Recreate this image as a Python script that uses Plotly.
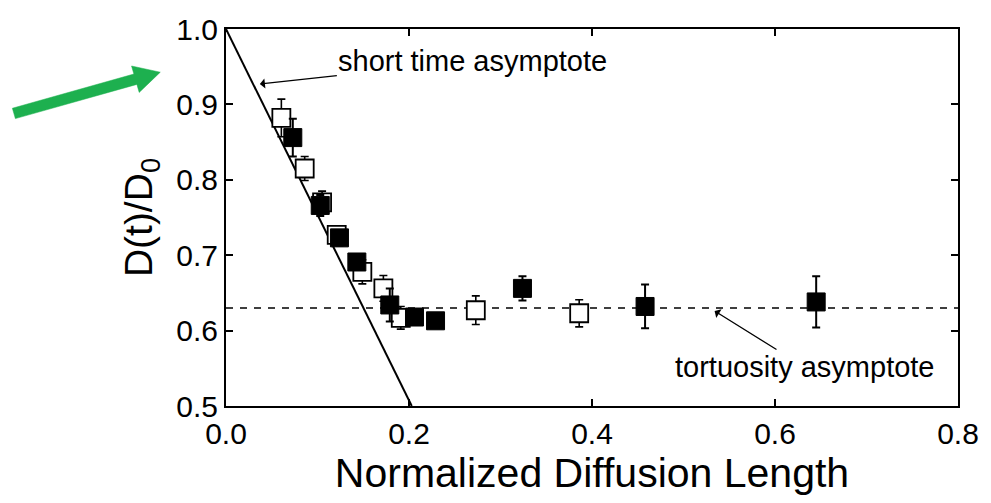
import plotly.graph_objects as go

# Open squares
open_x = [0.0605, 0.086, 0.105, 0.121, 0.149, 0.172, 0.191, 0.273, 0.386]
open_y = [0.882, 0.815, 0.770, 0.727, 0.678, 0.656, 0.617, 0.627, 0.623]
open_err = [0.025, 0.016, 0.015, 0.012, 0.016, 0.017, 0.015, 0.019, 0.018]

# Filled squares
fill_x = [0.073, 0.103, 0.124, 0.143, 0.179, 0.206, 0.229, 0.324, 0.458, 0.645]
fill_y = [0.856, 0.766, 0.723, 0.691, 0.634, 0.618, 0.613, 0.656, 0.632, 0.638]
fill_err = [0.025, 0.014, 0.010, 0.008, 0.022, 0.008, 0.005, 0.016, 0.029, 0.034]

# Asymptotes
short_x = [0.0, 0.203]
short_y = [1.0, 0.5]
tort_x = [0.0, 0.8]
tort_level = 0.63

x_ticks = [0.0, 0.2, 0.4, 0.6, 0.8]
y_ticks = [0.5, 0.6, 0.7, 0.8, 0.9, 1.0]

FONT = "Liberation Sans"
W, H = 991, 503
ML, MR, MT, MB = 226, 30, 22, 97

fig = go.Figure()

fig.add_trace(go.Scatter(
    x=short_x, y=short_y, mode="lines",
    line=dict(color="black", width=2), showlegend=False, hoverinfo="skip"))

fig.add_trace(go.Scatter(
    x=tort_x, y=[tort_level, tort_level], mode="lines",
    line=dict(color="black", width=1.6, dash="7px,7px"), showlegend=False, hoverinfo="skip"))

fig.add_trace(go.Scatter(
    x=open_x, y=open_y, mode="markers",
    error_y=dict(type="data", array=open_err, color="black", thickness=1.6, width=4),
    marker=dict(symbol="square", size=18, color="white", line=dict(color="black", width=1.8)),
    showlegend=False))

fig.add_trace(go.Scatter(
    x=fill_x, y=fill_y, mode="markers",
    error_y=dict(type="data", array=fill_err, color="black", thickness=2, width=4),
    marker=dict(symbol="square", size=18, color="black", line=dict(color="black", width=1)),
    showlegend=False))

fig.update_layout(
    width=W, height=H,
    margin=dict(l=ML, r=MR, t=MT, b=MB),
    paper_bgcolor="white", plot_bgcolor="white",
    font=dict(family=FONT, color="black"),
    xaxis=dict(
        range=[0, 0.8], tickvals=x_ticks, tickformat=".1f",
        showgrid=False, zeroline=False,
        showline=True, linecolor="black", linewidth=2, mirror="ticks",
        ticks="inside", ticklen=7, tickwidth=1.5, tickcolor="black",
        tickfont=dict(size=30, family=FONT),
        title=dict(text="Normalized Diffusion Length", font=dict(size=41, family=FONT), standoff=4),
    ),
    yaxis=dict(
        range=[0.5, 1.0], tickvals=y_ticks, tickformat=".1f",
        showgrid=False, zeroline=False,
        showline=True, linecolor="black", linewidth=2, mirror="ticks",
        ticks="inside", ticklen=7, tickwidth=1.5, tickcolor="black",
        tickfont=dict(size=30, family=FONT),
        title=dict(text="D(t)/D<sub>0</sub>", font=dict(size=39, family=FONT), standoff=12),
    ),
)

fig.add_annotation(
    x=0.037, y=0.927, xref="x", yref="y",
    text="short time asymptote", font=dict(size=29, family=FONT, color="black"),
    showarrow=True, ax=213, ay=-23, arrowhead=1, arrowsize=1.3, arrowwidth=1.3,
    arrowcolor="black")

fig.add_annotation(
    x=0.534, y=0.626, xref="x", yref="y",
    text="tortuosity asymptote", font=dict(size=29, family=FONT, color="black"),
    showarrow=True, ax=90, ay=56, arrowhead=1, arrowsize=1.3, arrowwidth=1.3,
    arrowcolor="black")

# Green pointer arrow outside the plot (drawn as a filled path in paper coords)
pw, ph = W - ML - MR, H - MT - MB
def to_paper(px, py):
    return (px - ML) / pw, (H - MB - py) / ph

tail = (13.0, 108.0)
tip = (160.0, 66.0)
dx, dy = tip[0] - tail[0], tip[1] - tail[1]
L = (dx * dx + dy * dy) ** 0.5
ux, uy = dx / L, dy / L
nx, ny = -uy, ux
head_len, head_half, shaft_half = 26.0, 14.0, 5.5
bx, by = tip[0] - head_len * ux, tip[1] - head_len * uy
pts_px = [
    (tail[0] + shaft_half * nx, tail[1] + shaft_half * ny),
    (bx + shaft_half * nx, by + shaft_half * ny),
    (bx + head_half * nx, by + head_half * ny),
    tip,
    (bx - head_half * nx, by - head_half * ny),
    (bx - shaft_half * nx, by - shaft_half * ny),
    (tail[0] - shaft_half * nx, tail[1] - shaft_half * ny),
]
pts = [to_paper(*p) for p in pts_px]
path = "M " + " L ".join(f"{x:.5f},{y:.5f}" for x, y in pts) + " Z"
fig.add_shape(type="path", path=path, xref="paper", yref="paper",
              fillcolor="#1db04f", line=dict(color="#1db04f", width=0.5))

fig.write_html("out.html")
